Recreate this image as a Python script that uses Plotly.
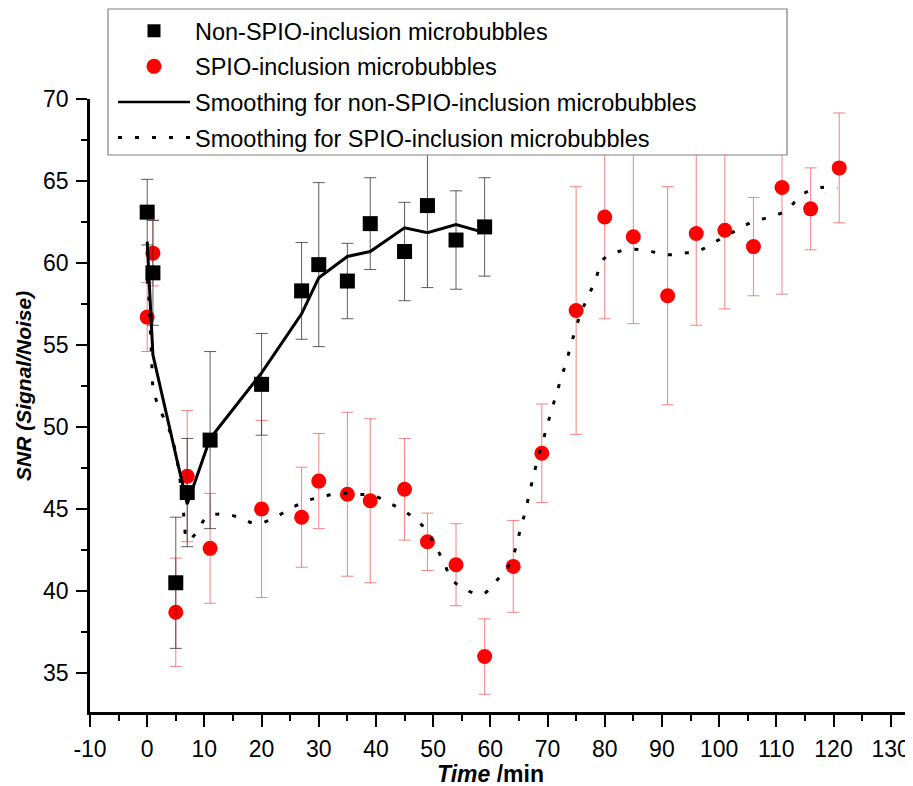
import plotly.graph_objects as go

# ---- data ----
time_non = [0, 1, 5, 7, 11, 20, 27, 30, 35, 39, 45, 49, 54, 59]
snr_non = [63.1, 59.4, 40.5, 46.0, 49.2, 52.6, 58.3, 59.9, 58.9, 62.4, 60.7, 63.5, 61.4, 62.2]
err_non = [2.0, 3.2, 4.0, 3.3, 5.4, 3.1, 2.95, 5.0, 2.3, 2.8, 3.0, 5.0, 3.0, 3.0]

time_spio = [0, 1, 5, 7, 11, 20, 27, 30, 35, 39, 45, 49, 54, 59, 64, 69, 75, 80, 85, 91,
             96, 101, 106, 111, 116, 121]
snr_spio = [56.7, 60.6, 38.7, 47.0, 42.6, 45.0, 44.5, 46.7, 45.9, 45.5, 46.2, 43.0, 41.6,
            36.0, 41.5, 48.4, 57.1, 62.8, 61.6, 58.0, 61.8, 62.0, 61.0, 64.6, 63.3, 65.8]
err_spio = [2.1, 2.0, 3.3, 4.0, 3.35, 5.4, 3.05, 2.9, 5.0, 5.0, 3.1, 1.75, 2.5, 2.3, 2.8,
            3.0, 7.55, 6.2, 5.3, 6.65, 5.6, 4.8, 3.0, 6.5, 2.5, 3.35]

smooth_non = [61.3, 54.4, 48.3, 45.3, 49.3, 53.3, 56.9, 59.1, 60.4, 60.7, 62.15, 61.85,
              62.35, 61.85]

smooth_spio_t = [0, 0.35, 0.6, 0.8, 1.0, 1.8, 3.1, 4.3, 5.5, 6.4, 7.05, 8.5, 10.4, 13, 16,
                 19, 21.9, 24.9, 27.9, 30.7, 33.7, 36.7, 39.6, 42.7, 45.7, 48.6, 50.3, 51.8,
                 53.3, 55.6, 58.6, 61, 63.3, 64.5, 65.2, 66, 66.7, 67.4, 68.1, 68.9, 69.8,
                 70.6, 71.5, 72.4, 73.3, 74.1, 75, 76, 77.3, 78.5, 79.7, 82, 85, 88, 91, 93.9,
                 96.8, 99.9, 102.8, 105.8, 108.8, 111.7, 114.6, 117.7, 120.7]
smooth_spio = [59.0, 57.6, 55.5, 54.0, 52.5, 51.4, 50.4, 49.4, 47.4, 44.6, 43.1, 43.5, 44.5,
               44.7, 44.5, 44.1, 44.4, 45.0, 45.5, 45.75, 45.96, 45.9, 45.8, 45.3, 44.7, 43.8,
               42.8, 41.8, 40.7, 40.1, 39.8, 40.6, 41.6, 42.7, 43.7, 44.7, 45.75, 46.8, 47.8,
               48.8, 49.9, 50.9, 51.95, 53.0, 54.0, 55.0, 56.1, 57.1, 58.1, 59.1, 60.2, 60.65,
               60.84, 60.7, 60.5, 60.6, 60.8, 61.4, 61.95, 62.5, 62.8, 63.2, 64.2, 64.6, 64.6]

x_ticks = list(range(-10, 131, 10))
y_ticks = [35, 40, 45, 50, 55, 60, 65, 70]

names = ["Non-SPIO-inclusion microbubbles",
         "SPIO-inclusion microbubbles",
         "Smoothing for non-SPIO-inclusion microbubbles",
         "Smoothing for SPIO-inclusion microbubbles"]

FONT = "Liberation Sans, Arial, sans-serif"
DOT = "4px,13px"

# figure geometry (page has an 8px body margin)
W, H = 905, 778
ML, MT, MB = 82, 91, 74
PW, PH = W - ML, H - MT - MB


def px(xf):
    return (xf - ML) / PW


def py(yf):
    return (H - MB - yf) / PH


fig = go.Figure()

fig.add_trace(go.Scatter(
    x=time_spio, y=snr_spio, mode="markers", showlegend=False,
    marker=dict(symbol="circle", size=15, color="#ff0000"),
    error_y=dict(type="data", array=err_spio, color="rgba(240,90,90,0.75)",
                 thickness=1, width=6)))
fig.add_trace(go.Scatter(
    x=time_non, y=snr_non, mode="markers", showlegend=False,
    marker=dict(symbol="square", size=15, color="#000000"),
    error_y=dict(type="data", array=err_non, color="rgba(40,40,40,0.75)",
                 thickness=1, width=6)))
fig.add_trace(go.Scatter(
    x=time_non, y=smooth_non, mode="lines", showlegend=False,
    line=dict(color="#000000", width=3)))
fig.add_trace(go.Scatter(
    x=smooth_spio_t, y=smooth_spio, mode="lines", showlegend=False,
    line=dict(color="#000000", width=3, dash=DOT, shape="spline")))

# legend entries
fig.add_trace(go.Scatter(x=[None], y=[None], mode="markers", name=names[0],
                         legendgroup="a", legendrank=1,
                         marker=dict(symbol="square", size=13, color="#000000")))
fig.add_trace(go.Scatter(x=[None], y=[None], mode="markers", name=names[1],
                         legendgroup="b", legendrank=2,
                         marker=dict(symbol="circle", size=15, color="#ff0000")))
fig.add_trace(go.Scatter(x=[None], y=[None], mode="lines", name=names[2],
                         legendgroup="c", legendrank=3,
                         line=dict(color="#000000", width=2.5)))
fig.add_trace(go.Scatter(x=[None], y=[None], mode="lines", name=names[3],
                         legendgroup="d", legendrank=4,
                         line=dict(color="#000000", width=3, dash=DOT)))

# legend frame
fig.add_shape(type="rect", xref="paper", yref="paper",
              x0=px(100), x1=px(779), y0=py(147), y1=py(1),
              line=dict(color="#808080", width=1.2), fillcolor="white", layer="above")

# axis titles
fig.add_annotation(text="<b><i>SNR (Signal/Noise)</i></b>", xref="paper", yref="paper",
                   x=px(15), y=py(378), textangle=-90, showarrow=False,
                   xanchor="center", yanchor="middle",
                   font=dict(family=FONT, size=21, color="#000000"))
fig.add_annotation(text="<b><i>Time</i> /min</b>", xref="paper", yref="paper",
                   x=px(482), y=py(766), showarrow=False,
                   xanchor="center", yanchor="middle",
                   font=dict(family=FONT, size=23, color="#000000"))

fig.update_layout(
    width=W, height=H,
    margin=dict(l=ML, r=0, t=MT, b=MB, autoexpand=False),
    paper_bgcolor="white", plot_bgcolor="white",
    font=dict(family=FONT, size=22, color="#000000"),
    showlegend=True,
    legend=dict(x=px(105), y=py(1), xanchor="left", yanchor="top",
                bgcolor="rgba(0,0,0,0)", borderwidth=0, traceorder="grouped",
                tracegroupgap=2, itemwidth=72,
                font=dict(family=FONT, size=23.5, color="#000000")),
    xaxis=dict(range=[-10, 133.9], tickvals=x_ticks, ticktext=[str(v) for v in x_ticks],
               showgrid=False, zeroline=False, showline=True, linecolor="#000000",
               linewidth=2.5, ticks="outside", ticklen=12, tickwidth=2, tickcolor="#000000",
               minor=dict(tickvals=[v + 5 for v in x_ticks], ticks="outside", ticklen=6,
                          tickwidth=2, tickcolor="#000000"),
               tickfont=dict(size=23, family=FONT), ticklabelstandoff=3, automargin=False),
    yaxis=dict(range=[32.62, 70], tickvals=y_ticks, ticktext=[str(v) for v in y_ticks],
               showgrid=False, zeroline=False, showline=True, linecolor="#000000",
               linewidth=2.5, ticks="outside", ticklen=11, tickwidth=2, tickcolor="#000000",
               minor=dict(tickvals=[v + 2.5 for v in y_ticks[:-1]], ticks="outside",
                          ticklen=6, tickwidth=2, tickcolor="#000000"),
               tickfont=dict(size=23, family=FONT), ticklabelstandoff=3, automargin=False),
)

fig.write_html("out.html")
